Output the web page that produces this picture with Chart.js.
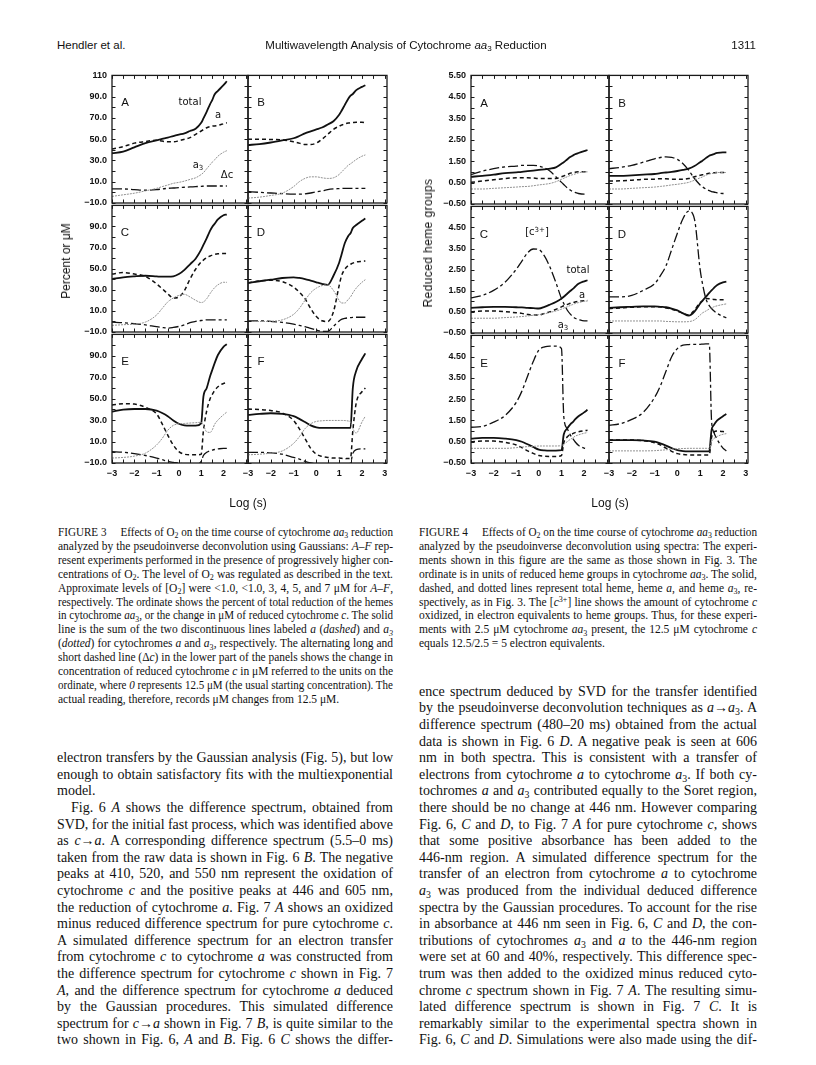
<!DOCTYPE html>
<html>
<head>
<meta charset="utf-8">
<script src="https://cdn.jsdelivr.net/npm/chart.js@4.4.1/dist/chart.umd.min.js"></script>
<style>
  body { margin: 0; background: #fff; }
  #page { position: relative; width: 816px; height: 1065px; overflow: hidden; background: #fff; color: #111; font-family: "Liberation Serif", serif; }
  canvas { position: absolute; }
  .hdr { position: absolute; font-family: "Liberation Sans", sans-serif; font-size: 11.5px; white-space: nowrap; line-height: 14px; }
  .ln { position: absolute; overflow: visible; }
  .cap { font-size: 11.5px; }
  .body { font-size: 14px; }
  .ann { position: absolute; transform: translate(-50%, -50%); font-family: "DejaVu Sans", sans-serif; font-size: 10px; white-space: nowrap; line-height: 10px; }
  .let { font-family: "Liberation Sans", sans-serif; font-size: 11.5px; }
  .ttl { position: absolute; font-family: "Liberation Sans", sans-serif; font-size: 12px; white-space: nowrap; transform: translate(-50%, -50%); }
  sub, sup { font-size: 70%; line-height: 0; position: relative; vertical-align: baseline; }
  sub { top: 0.3em; }
  sup { top: -0.45em; }
</style>
</head>
<body>
<div id="page"></div>
<script>
// time axis (log s) shared by every panel
var logT = [-3, -2.5, -2, -1.5, -1, -0.75, -0.5, -0.25, 0, 0.25, 0.5, 0.75, 1, 1.1, 1.25, 1.4, 1.5, 1.6, 1.75, 2, 2.15];
var xLabels = [-3, -2, -1, 0, 1, 2, 3];
var f3Labels = [-10, 10, 30, 50, 70, 90, 110];
var f4Labels = [-0.5, 0.5, 1.5, 2.5, 3.5, 4.5, 5.5];
var panelNames = ["A", "B", "C", "D", "E", "F"];

// Figure 3 - Gaussians (percent or uM)
var f3A_total = [36.8, 38.3, 42.3, 46.3, 49, 50.3, 51.5, 53, 54.3, 55.5, 57.7, 59.8, 65.4, 69.5, 76, 83, 87, 92, 95.5, 100.8, 104.5];
var f3A_a = [40.8, 43, 46.3, 47.8, 49, 48.2, 47.5, 47.5, 48.5, 50, 51.5, 54.6, 57.7, 59, 60.8, 61.8, 62.3, 62.5, 63, 64.5, 65.4];
var f3A_a3 = [-3.8, -2.3, -0.8, 1.4, 3.8, 5.4, 6.9, 8.5, 9.4, 10.6, 12.2, 13.7, 16.8, 18.5, 22.3, 26, 28.5, 30.5, 34, 37.7, 39.2];
var f3A_dc = [3.2, 3.2, 2.6, 2, 2.6, 3.2, 3.8, 4.1, 4.5, 4.8, 5.1, 5.4, 5.7, 5.8, 6, 6, 6, 6, 6, 6, 6];

var f3B_total = [44.5, 45.4, 46.9, 48.8, 50.9, 53, 55.5, 57.4, 59.2, 61, 63.8, 66.9, 73, 76.5, 82.3, 88, 90.9, 92.5, 96.2, 99.2, 100.8];
var f3B_a = [50, 50, 49.7, 49.4, 47.5, 46.3, 45, 45, 46.3, 50, 54.6, 59.2, 62.3, 63.2, 64.5, 65.2, 65.4, 65.7, 66, 66, 65.4];
var f3B_a3 = [-5.4, -4.5, -2.9, -0.8, 5.4, 10, 13.1, 14.6, 14.6, 13.7, 13.1, 13.7, 16.8, 19, 22.3, 25.5, 26.9, 28.5, 30.9, 34, 35.2];
var f3B_dc = [0.8, 0, -0.6, -1.2, -1.7, -1.7, -1.4, -0.6, 0.5, 1.4, 2.6, 3.2, 3.5, 3.6, 3.8, 3.8, 3.8, 3.8, 3.8, 3.8, 3.8];

var f3C_total = [40.2, 41.8, 42.7, 43.3, 42.7, 42.4, 42.4, 42.7, 44.9, 48.9, 54.2, 59.5, 68.1, 72.5, 79, 86, 89.8, 92.5, 96.7, 100.7, 101.3];
var f3C_a = [44.9, 46.4, 44.9, 42.7, 35.6, 31, 26.3, 22.2, 23.2, 29.4, 40.2, 49.5, 56.4, 58.2, 60.4, 62, 62.9, 63.5, 64.1, 64.4, 64.4];
var f3C_a3 = [-3.7, -3.1, -2.5, -0.6, 6.1, 12.3, 18.5, 22.2, 24.7, 25.7, 23.2, 20.1, 17.9, 18.5, 21.6, 26.5, 29.4, 32, 34.7, 37.1, 37.1];
var f3C_dc = [-0.6, -1.2, -2.2, -3.2, -5, -5.7, -6.3, -5.7, -4.7, -3.2, -1.2, 0, 0.9, 1.2, 1.5, 1.5, 1.5, 1.5, 1.5, 1.5, 1.5];

var f3D_total = [36.5, 38.1, 39.6, 41.2, 41.8, 41.2, 40.2, 38.7, 37.1, 35.6, 34.6, 43.3, 55.7, 63, 74.3, 81, 83.6, 88.5, 91.4, 95.4, 97.6];
var f3D_a = [36.5, 38.4, 39, 37.8, 32.5, 27.8, 21.6, 12.3, 4.6, 0.6, 0, 9.2, 34, 43, 49.5, 53, 54.2, 55.3, 56.4, 57, 57.3];
var f3D_a3 = [0, 0, 0.2, 1.5, 6.7, 12.3, 20, 27.2, 31.6, 34, 34.6, 29.4, 20, 17.5, 17.5, 21, 23.2, 27, 31.6, 37.1, 39.6];
var f3D_dc = [0.6, 0.6, 0, -0.9, -2.6, -3.8, -5, -6.6, -8.1, -9.4, -9.4, -4.7, 0.5, 2, 3, 3.4, 3.6, 3.8, 4, 4, 4];

var f3E_total = [38, 39.8, 40.4, 40.4, 38.9, 36.7, 33.7, 29.7, 26.6, 25.1, 24.8, 24.8, 27, 52, 60, 71, 77, 83, 90.8, 98.4, 100.8];
var f3E_a = [44, 45.3, 45, 41.9, 35.8, 26.6, 16, 6.8, 0.6, -1.8, -2.4, -2.4, -1.8, 20, 38.9, 50, 54.1, 57.5, 61.1, 64.2, 64.8];
var f3E_a3 = [-5.4, -4.8, -3.6, -0.8, 6.8, 12.9, 20.5, 25.1, 26.6, 26.9, 27.3, 27.6, 28, 25, 19, 18.5, 21, 26, 30, 35, 37.5];
var f3E_dc = [0.6, 0, -1.2, -3, -5.4, -6.9, -8.5, -9.4, -10, -11, -11, -11, -8.5, -3, 0, 1.5, 2.1, 2.6, 3.1, 3.7, 3.7];

var f3F_total = [34.9, 35.8, 36.4, 35.8, 33.7, 31.2, 28.2, 25.1, 23.3, 22.7, 22.7, 22.7, 22.7, 22.7, 22.7, 22.7, 22.7, 60, 76, 87, 92.3];
var f3F_a = [40.4, 39.8, 38.9, 36.7, 29.7, 22, 12.9, 3.7, -1.8, -3.9, -4.8, -5.4, -5.4, -5.6, -6, -5.8, -5.4, 20, 46, 56.5, 60];
var f3F_a3 = [-2.4, -1.8, -0.8, 1.2, 8.3, 14.4, 22, 26.6, 28.8, 29.4, 29.7, 29.7, 29.7, 29.7, 29.6, 29.2, 28.2, 22, 18, 28.2, 33.7];
var f3F_dc = [0, 0, -0.5, -1.8, -4.8, -6.3, -8.5, -10, -10.6, -11, -11, -11, -11, -11, -11, -11, -10, -1, 2.5, 3.1, 3.1];

// Figure 4 - spectra (reduced heme groups)
var f4A_total = [0.77, 0.81, 0.87, 0.94, 0.98, 1.0, 1.03, 1.06, 1.09, 1.12, 1.15, 1.21, 1.38, 1.45, 1.58, 1.7, 1.76, 1.82, 1.88, 1.97, 2.02];
var f4A_a = [0.51, 0.57, 0.63, 0.69, 0.72, 0.72, 0.72, 0.71, 0.69, 0.69, 0.69, 0.69, 0.77, 0.81, 0.87, 0.94, 0.97, 0.98, 1.0, 1.0, 1.0];
var f4A_a3 = [0.2, 0.2, 0.23, 0.26, 0.29, 0.31, 0.32, 0.35, 0.39, 0.42, 0.46, 0.54, 0.65, 0.7, 0.77, 0.84, 0.87, 0.9, 0.95, 1.0, 1.0];
var f4A_c3 = [0.87, 1.03, 1.15, 1.23, 1.27, 1.3, 1.3, 1.3, 1.27, 1.18, 1.03, 0.77, 0.51, 0.41, 0.26, 0.14, 0.08, 0.04, -0.01, -0.04, -0.04];

var f4B_total = [0.81, 0.81, 0.84, 0.87, 0.9, 0.94, 0.97, 1.0, 1.04, 1.09, 1.15, 1.27, 1.45, 1.52, 1.64, 1.75, 1.79, 1.83, 1.88, 1.91, 1.91];
var f4B_a = [0.57, 0.58, 0.61, 0.65, 0.66, 0.68, 0.68, 0.66, 0.66, 0.65, 0.69, 0.77, 0.84, 0.86, 0.9, 0.93, 0.95, 0.96, 0.97, 0.97, 0.97];
var f4B_a3 = [0.2, 0.2, 0.23, 0.26, 0.29, 0.32, 0.35, 0.39, 0.42, 0.46, 0.51, 0.61, 0.72, 0.76, 0.84, 0.9, 0.92, 0.94, 0.97, 0.97, 0.97];
var f4B_c3 = [1.15, 1.21, 1.3, 1.45, 1.61, 1.67, 1.7, 1.68, 1.58, 1.38, 1.07, 0.69, 0.39, 0.3, 0.2, 0.12, 0.08, 0.06, 0.02, -0.01, -0.01];

var f4C_total = [0.69, 0.72, 0.74, 0.74, 0.72, 0.71, 0.69, 0.68, 0.66, 0.74, 0.85, 0.97, 1.13, 1.22, 1.36, 1.5, 1.59, 1.69, 1.83, 1.95, 2.0];
var f4C_a = [0.51, 0.54, 0.54, 0.51, 0.46, 0.43, 0.38, 0.35, 0.35, 0.43, 0.51, 0.62, 0.74, 0.79, 0.85, 0.91, 0.94, 0.97, 1.0, 1.03, 1.04];
var f4C_a3 = [0.2, 0.2, 0.2, 0.23, 0.26, 0.28, 0.31, 0.34, 0.37, 0.41, 0.48, 0.54, 0.63, 0.68, 0.74, 0.81, 0.85, 0.9, 0.94, 1.0, 1.02];
var f4C_c3 = [1.16, 1.28, 1.52, 1.9, 2.52, 2.91, 3.3, 3.48, 3.45, 3.14, 2.6, 1.9, 1.13, 0.9, 0.59, 0.38, 0.28, 0.2, 0.14, 0.07, 0.07];

var f4D_total = [0.69, 0.72, 0.74, 0.76, 0.76, 0.74, 0.72, 0.66, 0.57, 0.43, 0.32, 0.51, 0.9, 1.03, 1.21, 1.4, 1.52, 1.63, 1.78, 1.9, 1.93];
var f4D_a = [0.66, 0.69, 0.72, 0.74, 0.74, 0.74, 0.69, 0.63, 0.54, 0.43, 0.35, 0.59, 0.94, 1.02, 1.13, 1.12, 1.1, 1.09, 1.08, 1.08, 1.08];
var f4D_a3 = [0.07, 0.07, 0.07, 0.07, 0.07, 0.07, 0.05, 0.04, 0.03, 0.03, 0.04, 0.12, 0.35, 0.45, 0.54, 0.64, 0.69, 0.74, 0.79, 0.85, 0.88];
var f4D_c3 = [1.21, 1.21, 1.28, 1.52, 1.83, 2.21, 2.68, 3.45, 4.23, 4.93, 5.28, 4.9, 2.5, 1.85, 1.13, 0.8, 0.66, 0.55, 0.43, 0.28, 0.23];

var f4E_total = [0.65, 0.68, 0.68, 0.65, 0.58, 0.5, 0.38, 0.25, 0.13, 0.09, 0.08, 0.08, 0.1, 0.84, 1.12, 1.33, 1.42, 1.55, 1.7, 1.88, 2.0];
var f4E_a = [0.5, 0.53, 0.53, 0.47, 0.35, 0.22, 0.07, -0.05, -0.15, -0.18, -0.19, -0.19, -0.15, 0.45, 0.72, 0.84, 0.88, 0.93, 0.97, 1.02, 1.04];
var f4E_a3 = [0.19, 0.19, 0.19, 0.19, 0.22, 0.25, 0.27, 0.28, 0.3, 0.3, 0.3, 0.3, 0.32, 0.38, 0.5, 0.62, 0.68, 0.76, 0.82, 0.9, 0.93];
var f4E_c3 = [1.18, 1.22, 1.42, 1.73, 2.35, 2.88, 3.58, 4.27, 4.81, 4.96, 5.0, 5.0, 4.88, 1.7, 1.12, 0.8, 0.65, 0.5, 0.33, 0.2, 0.16];

var f4F_total = [0.58, 0.58, 0.58, 0.56, 0.5, 0.42, 0.32, 0.2, 0.1, 0.06, 0.05, 0.05, 0.05, 0.05, 0.05, 0.05, 1.05, 1.28, 1.5, 1.7, 1.8];
var f4F_a = [0.58, 0.58, 0.58, 0.55, 0.45, 0.35, 0.2, 0.05, -0.06, -0.1, -0.12, -0.12, -0.12, -0.12, -0.12, -0.12, 0.7, 0.95, 1.0, 0.98, 0.95];
var f4F_a3 = [0.07, 0.07, 0.07, 0.07, 0.08, 0.1, 0.12, 0.15, 0.17, 0.18, 0.19, 0.19, 0.19, 0.19, 0.19, 0.19, 0.5, 0.65, 0.75, 0.85, 0.88];
var f4F_c3 = [1.27, 1.35, 1.55, 1.88, 2.58, 3.12, 3.81, 4.5, 4.88, 5.04, 5.07, 5.08, 5.08, 5.09, 5.1, 5.1, 1.5, 0.95, 0.6, 0.2, 0.07];

var fig3Series = [
    [f3A_a3, f3A_dc, f3A_a, f3A_total], [f3B_a3, f3B_dc, f3B_a, f3B_total],
    [f3C_a3, f3C_dc, f3C_a, f3C_total], [f3D_a3, f3D_dc, f3D_a, f3D_total],
    [f3E_a3, f3E_dc, f3E_a, f3E_total], [f3F_a3, f3F_dc, f3F_a, f3F_total]
];
var fig4Series = [
    [f4A_a3, f4A_c3, f4A_a, f4A_total], [f4B_a3, f4B_c3, f4B_a, f4B_total],
    [f4C_a3, f4C_c3, f4C_a, f4C_total], [f4D_a3, f4D_c3, f4D_a, f4D_total],
    [f4E_a3, f4E_c3, f4E_a, f4E_total], [f4F_a3, f4F_c3, f4F_a, f4F_total]
];

// ---- drawing ----
var page = document.getElementById("page");
var M = { l: 50, r: 8, t: 8, b: 22 };
var tickFont = { family: "Liberation Sans", size: 9, weight: "bold" };
var MINUS = "\u2212";

// a3 dotted, c / c3+ long-short, a dashed, total solid
var lineStyles = [
    { borderColor: "#929292", borderWidth: 1, borderDash: [2, 1] },
    { borderColor: "#111", borderWidth: 1.3, borderDash: [10, 3, 3, 3] },
    { borderColor: "#111", borderWidth: 1.5, borderDash: [4, 3] },
    { borderColor: "#111", borderWidth: 1.8, borderDash: [] }
];

function fmtX(v) { return v < 0 ? MINUS + Math.abs(v) : String(v); }
function fmt3(v) { return v === 110 ? "110" : (v < 0 ? MINUS : "") + Math.abs(v).toFixed(1); }
function fmt4(v) { return (v < 0 ? MINUS : "") + Math.abs(v).toFixed(2); }

// frame with inward ticks on all four sides
var boxPlugin = {
    id: "box",
    afterDatasetsDraw: function (chart) {
        var ctx = chart.ctx, a = chart.chartArea, sx = chart.scales.x, sy = chart.scales.y;
        ctx.save();
        ctx.strokeStyle = "#1a1a1a";
        ctx.lineWidth = 1.3;
        ctx.strokeRect(a.left, a.top, a.right - a.left, a.bottom - a.top);
        ctx.lineWidth = 1;
        ctx.beginPath();
        sx.ticks.forEach(function (t) {
            var p = Math.round(sx.getPixelForValue(t.value)) + 0.5;
            ctx.moveTo(p, a.bottom); ctx.lineTo(p, a.bottom - 3.5);
            ctx.moveTo(p, a.top); ctx.lineTo(p, a.top + 3.5);
        });
        sy.ticks.forEach(function (t) {
            var p = Math.round(sy.getPixelForValue(t.value)) + 0.5;
            ctx.moveTo(a.left, p); ctx.lineTo(a.left + 3.5, p);
            ctx.moveTo(a.right, p); ctx.lineTo(a.right - 3.5, p);
        });
        ctx.stroke();
        ctx.restore();
    }
};

function drawPanel(left, top, w, h, series, yAxis, col, row) {
    var cv = document.createElement("canvas");
    cv.width = w + M.l + M.r;
    cv.height = h + M.t + M.b;
    cv.style.left = (left - M.l) + "px";
    cv.style.top = (top - M.t) + "px";
    page.appendChild(cv);
    new Chart(cv, {
        type: "line",
        data: {
            datasets: series.map(function (vals, k) {
                return Object.assign({
                    data: logT.map(function (t, i) { return { x: t, y: vals[i] }; }),
                    pointRadius: 0,
                    fill: false,
                    cubicInterpolationMode: "monotone"
                }, lineStyles[k]);
            })
        },
        options: {
            responsive: false,
            animation: false,
            devicePixelRatio: 1,
            events: [],
            layout: { padding: { top: M.t, right: M.r, left: 0, bottom: 0 } },
            plugins: { legend: { display: false }, tooltip: { enabled: false } },
            scales: {
                x: {
                    type: "linear", min: -3, max: 3.1,
                    afterFit: function (s) { s.height = M.b; },
                    grid: { display: false, drawTicks: false },
                    border: { display: false },
                    ticks: {
                        stepSize: 0.5, includeBounds: false, autoSkip: false, maxRotation: 0,
                        padding: 5, color: "#111", font: tickFont,
                        callback: function (v) {
                            if (row !== 2 || xLabels.indexOf(v) < 0) return "";
                            if (col === 0 && v === 3) return "";
                            return fmtX(v);
                        }
                    }
                },
                y: {
                    type: "linear", min: yAxis.min, max: yAxis.max,
                    afterFit: function (s) { s.width = M.l; },
                    grid: { display: false, drawTicks: false },
                    border: { display: false },
                    ticks: {
                        stepSize: yAxis.step, includeBounds: false, autoSkip: false,
                        padding: 5, color: "#111", font: tickFont,
                        callback: function (v) {
                            if (col !== 0 || yAxis.labels.indexOf(v) < 0) return "";
                            if (row > 0 && v === yAxis.max) return "";
                            return yAxis.fmt(v);
                        }
                    }
                }
            }
        },
        plugins: [boxPlugin]
    });
}

function drawFigure(cols, rows, seriesList, yAxis) {
    for (var i = 0; i < 6; i++) {
        var c = i % 2, r = Math.floor(i / 2);
        drawPanel(cols[c], rows[r], cols[c + 1] - cols[c], rows[r + 1] - rows[r], seriesList[i], yAxis, c, r);
    }
}

var fig3Cols = [112, 248, 387], fig3Rows = [73, 203, 332, 463];
var fig4Cols = [471, 609, 748], fig4Rows = [73, 204, 333, 463];
drawFigure(fig3Cols, fig3Rows, fig3Series, { min: -10, max: 110, step: 10, labels: f3Labels, fmt: fmt3 });
drawFigure(fig4Cols, fig4Rows, fig4Series, { min: -0.5, max: 5.5, step: 0.5, labels: f4Labels, fmt: fmt4 });

// ---- text on the page ----
function put(cls, html, x, y, extra) {
    var d = document.createElement("div");
    d.className = cls;
    d.innerHTML = html;
    d.style.left = x + "px";
    d.style.top = y + "px";
    if (extra) Object.assign(d.style, extra);
    page.appendChild(d);
    return d;
}

// panel letters and curve labels
for (var i = 0; i < 6; i++) {
    var c = i % 2, r = Math.floor(i / 2);
    put("ann let", panelNames[i], fig3Cols[c] + 13, fig3Rows[r] + 29);
    put("ann let", panelNames[i], fig4Cols[c] + 13, fig4Rows[r] + 30);
}
put("ann", "total", 190, 102);
put("ann", "a", 218, 115);
put("ann", "a<sub>3</sub>", 198, 165);
put("ann", "\u0394c", 227, 175);
put("ann", "[c<sup>3+</sup>]", 537, 232);
put("ann", "total", 578, 270);
put("ann", "a", 582, 295);
put("ann", "a<sub>3</sub>", 563, 325);

// axis titles
put("ttl", "Log (s)", 248, 503);
put("ttl", "Log (s)", 610, 503);
put("ttl", "Percent or \u03bcM", 66, 261, { transform: "translate(-50%, -50%) rotate(-90deg)" });
put("ttl", "Reduced heme groups", 428, 243, { transform: "translate(-50%, -50%) rotate(-90deg)", letterSpacing: "0.4px" });

// running header
put("hdr", "Hendler et al.", 57, 38);
put("hdr", "Multiwavelength Analysis of Cytochrome <i>aa</i><sub>3</sub> Reduction", 406, 38, { transform: "translateX(-50%)" });
put("hdr", "1311", 756, 38, { transform: "translateX(-100%)" });

// justified text lines; a line that is too long is squeezed to fit
function textLines(lines, x, y0, dy, w, cls, loose) {
    lines.forEach(function (html, i) {
        var d = document.createElement("div");
        d.className = "ln " + cls;
        d.innerHTML = html;
        d.style.left = x + "px";
        d.style.top = (y0 + i * dy - dy / 2) + "px";
        d.style.lineHeight = dy + "px";
        d.style.whiteSpace = "nowrap";
        page.appendChild(d);
        var rg = document.createRange();
        rg.selectNodeContents(d);
        var nat = rg.getBoundingClientRect().width;
        if (nat > w) {
            d.style.transformOrigin = "0 50%";
            d.style.transform = "scaleX(" + (w / nat) + ")";
        } else if (loose.indexOf(i) < 0) {
            d.style.width = w + "px";
            d.style.whiteSpace = "normal";
            d.style.textAlign = "justify";
            d.style.textAlignLast = "justify";
        }
    });
}

var cap3 = [
    "FIGURE 3&ensp;&ensp; Effects of O<sub>2</sub> on the time course of cytochrome <i>aa</i><sub>3</sub> reduction",
    "analyzed by the pseudoinverse deconvolution using Gaussians: <i>A–F</i> rep-",
    "resent experiments performed in the presence of progressively higher con-",
    "centrations of O<sub>2</sub>. The level of O<sub>2</sub> was regulated as described in the text.",
    "Approximate levels of [O<sub>2</sub>] were &lt;1.0, &lt;1.0, 3, 4, 5, and 7 μM for <i>A–F</i>,",
    "respectively. The ordinate shows the percent of total reduction of the hemes",
    "in cytochrome <i>aa</i><sub>3</sub>, or the change in μM of reduced cytochrome <i>c</i>. The solid",
    "line is the sum of the two discontinuous lines labeled <i>a</i> (<i>dashed</i>) and <i>a<sub>3</sub></i>",
    "(<i>dotted</i>) for cytochromes <i>a</i> and <i>a</i><sub>3</sub>, respectively. The alternating long and",
    "short dashed line (Δ<i>c</i>) in the lower part of the panels shows the change in",
    "concentration of reduced cytochrome <i>c</i> in μM referred to the units on the",
    "ordinate, where <i>0</i> represents 12.5 μM (the usual starting concentration). The",
    "actual reading, therefore, records μM changes from 12.5 μM."
];
var cap4 = [
    "FIGURE 4&ensp;&ensp; Effects of O<sub>2</sub> on the time course of cytochrome <i>aa</i><sub>3</sub> reduction",
    "analyzed by the pseudoinverse deconvolution using spectra: The experi-",
    "ments shown in this figure are the same as those shown in Fig. 3. The",
    "ordinate is in units of reduced heme groups in cytochrome <i>aa</i><sub>3</sub>. The solid,",
    "dashed, and dotted lines represent total heme, heme <i>a</i>, and heme <i>a</i><sub>3</sub>, re-",
    "spectively, as in Fig. 3. The [<i>c</i><sup>3+</sup>] line shows the amount of cytochrome <i>c</i>",
    "oxidized, in electron equivalents to heme groups. Thus, for these experi-",
    "ments with 2.5 μM cytochrome <i>aa</i><sub>3</sub> present, the 12.5 μM cytochrome <i>c</i>",
    "equals 12.5/2.5 = 5 electron equivalents."
];
var bodyL = [
    "electron transfers by the Gaussian analysis (Fig. 5), but low",
    "enough to obtain satisfactory fits with the multiexponential",
    "model.",
    "&emsp;Fig. 6 <i>A</i> shows the difference spectrum, obtained from",
    "SVD, for the initial fast process, which was identified above",
    "as <i>c</i>→<i>a</i>. A corresponding difference spectrum (5.5–0 ms)",
    "taken from the raw data is shown in Fig. 6 <i>B</i>. The negative",
    "peaks at 410, 520, and 550 nm represent the oxidation of",
    "cytochrome <i>c</i> and the positive peaks at 446 and 605 nm,",
    "the reduction of cytochrome <i>a</i>. Fig. 7 <i>A</i> shows an oxidized",
    "minus reduced difference spectrum for pure cytochrome <i>c</i>.",
    "A simulated difference spectrum for an electron transfer",
    "from cytochrome <i>c</i> to cytochrome <i>a</i> was constructed from",
    "the difference spectrum for cytochrome <i>c</i> shown in Fig. 7",
    "<i>A</i>, and the difference spectrum for cytochrome <i>a</i> deduced",
    "by the Gaussian procedures. This simulated difference",
    "spectrum for <i>c</i>→<i>a</i> shown in Fig. 7 <i>B</i>, is quite similar to the",
    "two shown in Fig. 6, <i>A</i> and <i>B</i>. Fig. 6 <i>C</i> shows the differ-"
];
var bodyR = [
    "ence spectrum deduced by SVD for the transfer identified",
    "by the pseudoinverse deconvolution techniques as <i>a</i>→<i>a</i><sub>3</sub>. A",
    "difference spectrum (480–20 ms) obtained from the actual",
    "data is shown in Fig. 6 <i>D</i>. A negative peak is seen at 606",
    "nm in both spectra. This is consistent with a transfer of",
    "electrons from cytochrome <i>a</i> to cytochrome <i>a</i><sub>3</sub>. If both cy-",
    "tochromes <i>a</i> and <i>a</i><sub>3</sub> contributed equally to the Soret region,",
    "there should be no change at 446 nm. However comparing",
    "Fig. 6, <i>C</i> and <i>D</i>, to Fig. 7 <i>A</i> for pure cytochrome <i>c</i>, shows",
    "that some positive absorbance has been added to the",
    "446-nm region. A simulated difference spectrum for the",
    "transfer of an electron from cytochrome <i>a</i> to cytochrome",
    "<i>a</i><sub>3</sub> was produced from the individual deduced difference",
    "spectra by the Gaussian procedures. To account for the rise",
    "in absorbance at 446 nm seen in Fig. 6, <i>C</i> and <i>D</i>, the con-",
    "tributions of cytochromes <i>a</i><sub>3</sub> and <i>a</i> to the 446-nm region",
    "were set at 60 and 40%, respectively. This difference spec-",
    "trum was then added to the oxidized minus reduced cyto-",
    "chrome <i>c</i> spectrum shown in Fig. 7 <i>A</i>. The resulting simu-",
    "lated difference spectrum is shown in Fig. 7 <i>C</i>. It is",
    "remarkably similar to the experimental spectra shown in",
    "Fig. 6, <i>C</i> and <i>D</i>. Simulations were also made using the dif-"
];

var bodyStep = 16.6, bodyTop = 692;
textLines(cap3, 58, 533, 13.9, 335, "cap", [12]);
textLines(cap4, 419, 533, 13.9, 338, "cap", [8]);
textLines(bodyR, 419, bodyTop, bodyStep, 338, "body", []);
textLines(bodyL, 57, bodyTop + 4 * bodyStep, bodyStep, 336, "body", [2]);
</script>
</body>
</html>
